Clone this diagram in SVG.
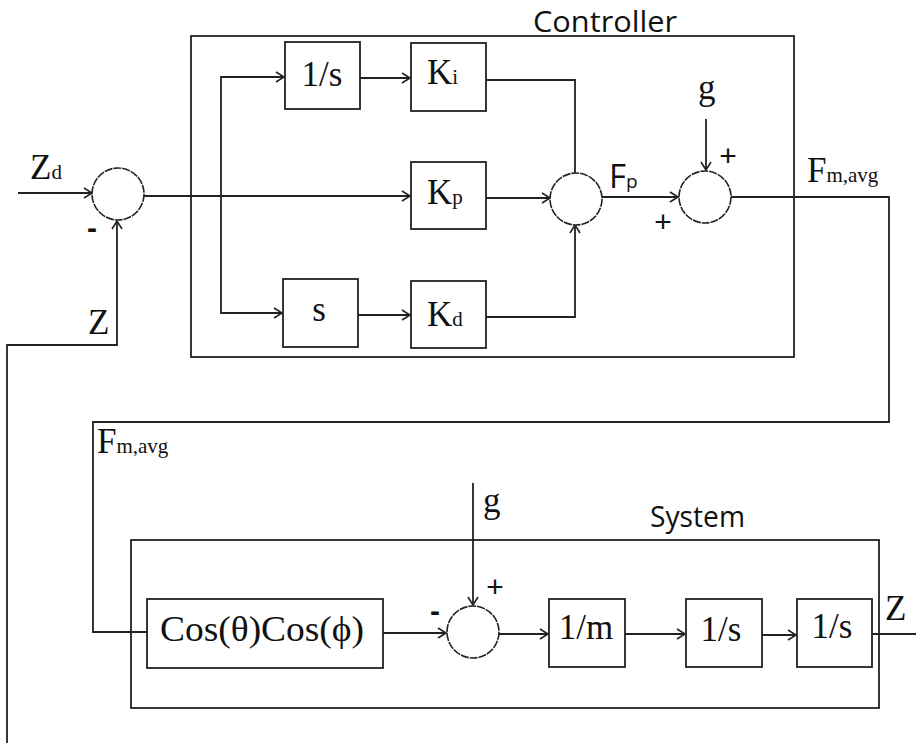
<svg xmlns="http://www.w3.org/2000/svg" width="916" height="743" viewBox="0 0 916 743">
<style>
.box{fill:#fff;stroke:#222;stroke-width:1.8}
.frame{fill:none;stroke:#222;stroke-width:1.8}
.sum{fill:#fff;stroke:#222;stroke-width:1.6;stroke-dasharray:8 1}
.w{fill:none;stroke:#222;stroke-width:1.8}
.m{font-family:"Liberation Serif","Times New Roman",serif;font-size:35px;fill:#111}
.sub{font-size:21px}
.sans{font-family:"Open Sans","Liberation Sans",Arial,sans-serif;fill:#111}
.sg{font-family:"Liberation Sans",Arial,sans-serif;font-size:30px;fill:#111}
</style>
<defs>
<marker id="arr" markerUnits="userSpaceOnUse" markerWidth="12" markerHeight="12" refX="9" refY="6" orient="auto" overflow="visible">
<path d="M1,1 L9,6 L1,11" fill="none" stroke="#222" stroke-width="1.6"/>
</marker>
</defs>
<rect width="916" height="743" fill="#fff"/>

<g id="controller-frame">
<rect class="frame" x="191" y="36" width="603" height="321"/>
<text class="sans" x="533" y="32" font-size="30" textLength="144" lengthAdjust="spacingAndGlyphs">Controller</text>
</g>
<g id="system-frame">
<rect class="frame" x="131" y="540" width="748" height="168"/>
<text class="sans" x="650" y="527" font-size="30" textLength="95" lengthAdjust="spacingAndGlyphs">System</text>
</g>

<g id="connectors">
<path class="w" d="M18,193 H92" marker-end="url(#arr)"/>
<path class="w" d="M144,196 H410" marker-end="url(#arr)"/>
<path class="w" d="M221,196 V77 H284" marker-end="url(#arr)"/>
<path class="w" d="M221,196 V313 H282" marker-end="url(#arr)"/>
<path class="w" d="M360,78 H410" marker-end="url(#arr)"/>
<path class="w" d="M358,315 H410" marker-end="url(#arr)"/>
<path class="w" d="M486,80 H575 V173"/>
<path class="w" d="M486,317 H575 V225" marker-end="url(#arr)"/>
<path class="w" d="M486,198 H550" marker-end="url(#arr)"/>
<path class="w" d="M602,197 H678" marker-end="url(#arr)"/>
<path class="w" d="M706,119 V170" marker-end="url(#arr)"/>
<path class="w" d="M731,197 H889 V422 H93 V632 H147"/>
<path class="w" d="M383,633 H446" marker-end="url(#arr)"/>
<path class="w" d="M473,483 V605" marker-end="url(#arr)"/>
<path class="w" d="M499,634 H548" marker-end="url(#arr)"/>
<path class="w" d="M625,634 H685" marker-end="url(#arr)"/>
<path class="w" d="M762,635 H796" marker-end="url(#arr)"/>
<path class="w" d="M872,634 H916"/>
<path class="w" d="M7,743 V345 H117 V221" marker-end="url(#arr)"/>
</g>

<g id="sum1"><circle class="sum" cx="118" cy="194" r="26"/></g>
<g id="sum2"><circle class="sum" cx="576" cy="199" r="26"/></g>
<g id="sum3"><circle class="sum" cx="705" cy="197" r="26"/></g>
<g id="sum4"><circle class="sum" cx="473" cy="632" r="26"/></g>

<g id="integrator-c"><rect class="box" x="285" y="42" width="75" height="67"/><text class="m" x="322" y="86" text-anchor="middle">1/s</text></g>
<g id="ki"><rect class="box" x="411" y="43" width="75" height="68"/><text class="m" x="427" y="84">K<tspan class="sub">i</tspan></text></g>
<g id="kp"><rect class="box" x="411" y="162" width="75" height="67"/><text class="m" x="427" y="204">K<tspan class="sub">p</tspan></text></g>
<g id="deriv"><rect class="box" x="283" y="279" width="75" height="68"/><text class="m" x="319" y="321" text-anchor="middle">s</text></g>
<g id="kd"><rect class="box" x="411" y="281" width="75" height="67"/><text class="m" x="427" y="326">K<tspan class="sub">d</tspan></text></g>

<g id="cos"><rect class="box" x="147" y="599" width="236" height="69"/><text class="m" x="160" y="641" textLength="204" lengthAdjust="spacingAndGlyphs">Cos(θ)Cos(ϕ)</text></g>
<g id="inv-m"><rect class="box" x="549" y="599" width="76" height="68"/><text class="m" x="586" y="639" text-anchor="middle">1/m</text></g>
<g id="integrator-s1"><rect class="box" x="686" y="599" width="76" height="68"/><text class="m" x="721" y="641" text-anchor="middle">1/s</text></g>
<g id="integrator-s2"><rect class="box" x="797" y="599" width="75" height="68"/><text class="m" x="832" y="638" text-anchor="middle">1/s</text></g>

<g id="labels">
<text class="m" x="30" y="179">Z<tspan class="sub">d</tspan></text>
<text class="sg" x="92" y="238" text-anchor="middle" font-weight="bold">-</text>
<text class="m" x="88" y="334">Z</text>
<text class="sans" x="609" y="188" font-size="33">F<tspan font-size="19">p</tspan></text>
<text class="m" x="698" y="99">g</text>
<text class="sg" x="728" y="166" text-anchor="middle">+</text>
<text class="sg" x="663" y="232" text-anchor="middle">+</text>
<text class="m" x="807" y="182">F<tspan class="sub" font-size="22">m,avg</tspan></text>
<text class="m" x="97" y="453">F<tspan class="sub" font-size="22">m,avg</tspan></text>
<text class="m" x="483" y="512">g</text>
<text class="sg" x="435" y="621" text-anchor="middle" font-weight="bold">-</text>
<text class="sg" x="495" y="597" text-anchor="middle">+</text>
<text class="m" x="885" y="620">Z</text>
</g>
</svg>
